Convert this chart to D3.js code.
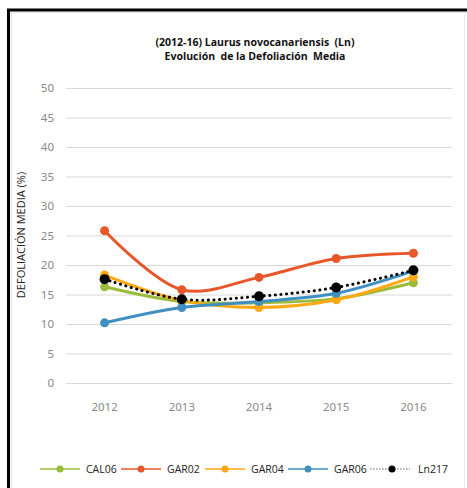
<!DOCTYPE html>
<html><head><meta charset="utf-8">
<script src="https://cdn.jsdelivr.net/npm/d3@7"></script>
<style>
body{margin:0;background:#fff;}
svg{display:block;}
text{font-family:"Open Sans","Noto Sans",sans-serif;}
</style></head>
<body>
<script>
const years = ["2012","2013","2014","2015","2016"];
const yTicks = [0,5,10,15,20,25,30,35,40,45,50];
const seriesNames = ["CAL06","GAR02","GAR04","GAR06","Ln217"];
const CAL06 = [16.3, 13.8, 13.6, 14.3, 17.0];
const GAR02 = [25.8, 15.8, 17.9, 21.1, 22.0];
const GAR04 = [18.3, 14.0, 12.8, 14.1, 18.0];
const GAR06 = [10.2, 12.8, 13.8, 15.2, 19.0];
const Ln217 = [17.6, 14.2, 14.7, 16.2, 19.1];
const seriesValues = [CAL06, GAR02, GAR04, GAR06, Ln217];
const colors = ["#9BBB3B","#E8572A","#FFA812","#3F8FC0","#000000"];

const W = 467, H = 488;
const svg = d3.select("body").append("svg").attr("width", W).attr("height", H);

// frame
svg.append("rect").attr("x",0).attr("y",0).attr("width",W).attr("height",H).attr("fill","#fff");
svg.append("path").attr("d","M8.5,488 V10 H467").attr("fill","none").attr("stroke","#000").attr("stroke-width",3);
svg.append("path").attr("d","M11.5,488 V12.5 H467").attr("fill","none").attr("stroke","#e4e4e4").attr("stroke-width",1);
svg.append("line").attr("x1",464.5).attr("x2",464.5).attr("y1",14).attr("y2",488).attr("stroke","#e8e8e8").attr("stroke-width",1);

// title
svg.append("text").attr("x",255).attr("y",46).attr("text-anchor","middle")
  .attr("font-size",10.5).attr("font-weight","bold").attr("fill","#111")
  .text("(2012-16) Laurus novocanariensis  (Ln)").style("white-space","pre");
svg.append("text").attr("x",255).attr("y",60).attr("text-anchor","middle")
  .attr("font-size",10.5).attr("font-weight","bold").attr("fill","#111")
  .text("Evolución  de la Defoliación  Media").style("white-space","pre");

const x = d3.scaleBand().domain(years).range([66, 452]);
const y = d3.scaleLinear().domain([0, 50]).range([383, 88]);

// grid
const yAxis = d3.axisLeft(y).tickValues(yTicks).tickSize(-(452-66)).tickPadding(12);
const gy = svg.append("g").attr("transform","translate(66,0)").call(yAxis);
gy.select(".domain").remove();
gy.selectAll(".tick line").attr("stroke","#d9d9d9").attr("stroke-width",1);
gy.selectAll(".tick text").attr("fill","#8a8a8a").attr("font-size",11.5)
  .style("font-family","'Noto Sans',sans-serif");

const xAxis = d3.axisBottom(x).tickSize(0).tickPadding(20);
const gx = svg.append("g").attr("transform","translate(0,383)").call(xAxis);
gx.select(".domain").remove();
gx.selectAll(".tick text").attr("fill","#8a8a8a").attr("font-size",11.5)
  .style("font-family","'Noto Sans',sans-serif");

// y label
svg.append("text").attr("transform","translate(25,235) rotate(-90)").attr("text-anchor","middle")
  .attr("font-size",11).attr("fill","#222").text("DEFOLIACIÓN MEDIA (%)");

const line = d3.line()
  .x((d,i)=> x(years[i]) + x.bandwidth()/2)
  .y(d=> y(d))
  .curve(d3.curveCatmullRom.alpha(0.5));

seriesValues.forEach((vals, si) => {
  const g = svg.append("g");
  const isDot = si === 4;
  g.append("path").datum(vals).attr("d", line).attr("fill","none")
    .attr("stroke", colors[si]).attr("stroke-width", 3)
    .attr("stroke-linecap", "round")
    .attr("stroke-dasharray", isDot ? "0.1 5.5" : null);
  g.selectAll("circle").data(vals).enter().append("circle")
    .attr("cx",(d,i)=> x(years[i]) + x.bandwidth()/2)
    .attr("cy", d=> y(d))
    .attr("r", isDot ? 5 : 4.5)
    .attr("fill", colors[si]);
});

// legend
const legX = [40, 121, 205, 288, 370];
const legY = 469;
seriesNames.forEach((name, si) => {
  const g = svg.append("g").attr("transform", `translate(${legX[si]},${legY})`);
  const isDot = si === 4;
  g.append("line").attr("x1",0).attr("x2",40).attr("y1",0).attr("y2",0)
    .attr("stroke", isDot ? "#666" : colors[si]).attr("stroke-width", isDot ? 1 : 1.5)
    .attr("stroke-dasharray", isDot ? "1.5 1.5" : null);
  g.append("circle").attr("cx", isDot ? 22 : 20).attr("cy",0).attr("r",3.5).attr("fill",colors[si]);
  g.append("text").attr("x", isDot ? 48 : 46).attr("y",4).attr("font-size",10.5).attr("fill","#222").text(name);
});
</script>
</body></html>
